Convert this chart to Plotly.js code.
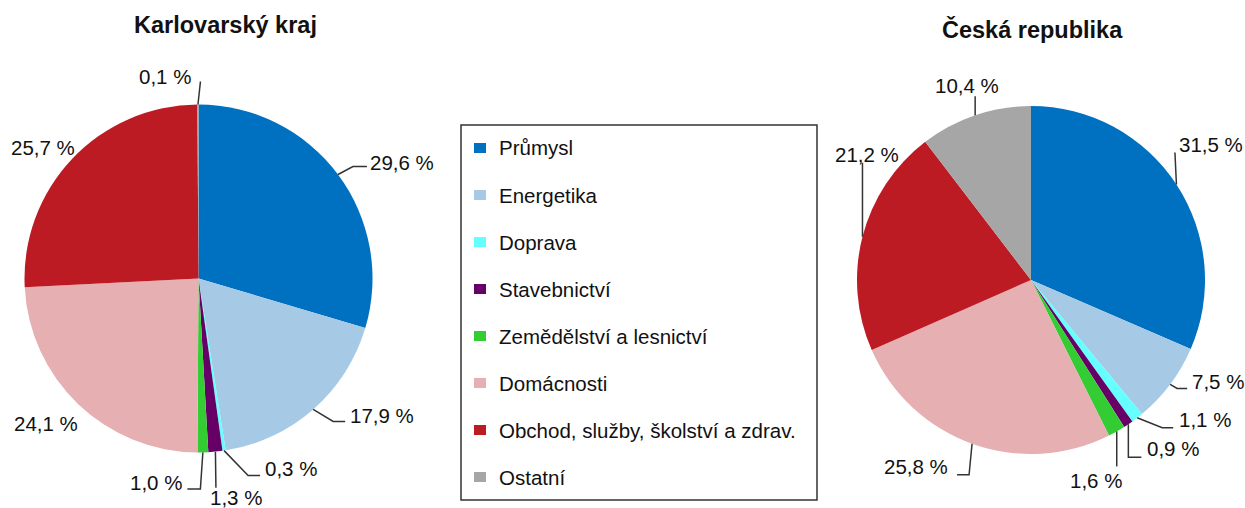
<!DOCTYPE html>
<html><head><meta charset="utf-8">
<script src="https://cdn.plot.ly/plotly-3.0.1.min.js"></script>
<style>html,body{margin:0;padding:0;background:#fff}#chart{width:1245px;height:508px}</style>
</head><body><div id="chart"></div>
<script>
// ---- DATA ----
const categories = ['Průmysl','Energetika','Doprava','Stavebnictví','Zemědělství a lesnictví','Domácnosti','Obchod, služby, školství a zdrav.','Ostatní'];
const karlovarskyValues = [29.6, 17.9, 0.3, 1.3, 1.0, 24.1, 25.7, 0.1];
const ceskaValues = [31.5, 7.5, 1.1, 0.9, 1.6, 25.8, 21.2, 10.4];
const pieTitles = ['Karlovarský kraj', 'Česká republika'];

// ---- STYLE ----
const colors = ['#0070C0','#A6CAE6','#66FFFF','#660066','#33CC33','#E6AFB2','#BD1B24','#A6A6A6'];
const W = 1245, H = 508;
const FONT = '"Liberation Sans", Arial, sans-serif';
const LABEL_SIZE = 20.5;
const pies = [
  {cx: 198.5, cy: 278.5, r: 174, titleX: 225, titleY: 25},
  {cx: 1031, cy: 280, r: 174, titleX: 1032, titleY: 29}
];
// label placement: leader path offsets from slice edge point, text offset & anchor
const labelPlacement = [
  [
    {path: [[15,-8],[29,-8]], tx: 30, ty: -11.5, a: 'left'},
    {path: [[20,12],[32,12]], tx: 35, ty: 6, a: 'left'},
    {path: [[24,25],[36,25]], tx: 39, ty: 18, a: 'left'},
    {path: [[0.5,36]], tx: -7.5, ty: 46, a: 'left'},
    {path: [[-2.5,36.5],[-15.5,36.5]], tx: -19, ty: 30, a: 'right'},
    {path: [], tx: 2, ty: 19, a: 'right'},
    {path: [], tx: 5, ty: -11, a: 'right'},
    {path: [[2.5,-23]], tx: -5, ty: -28, a: 'right'}
  ],
  [
    {path: [[-1.5,-32]], tx: 1, ty: -39.5, a: 'left'},
    {path: [[7,4],[17,4]], tx: 20, ty: -2.5, a: 'left'},
    {path: [[25,10],[36,10]], tx: 40, ty: 2, a: 'left'},
    {path: [[0,33],[13,33]], tx: 17, ty: 24, a: 'left'},
    {path: [[0,35]], tx: -21, ty: 49, a: 'center'},
    {path: [[-3,31],[-15,31]], tx: -22, ty: 23, a: 'right'},
    {path: [[0,-74]], tx: 5, ty: -82, a: 'center'},
    {path: [[0,-19]], tx: -8, ty: -30, a: 'center'}
  ]
];
const legendBox = {x0: 461, y0: 125, x1: 817, y1: 500, firstY: 148, step: 47, sqX0: 474, sqX1: 486, sqH: 10, textX: 497};

const px = x => x / W, py = y => 1 - y / H;
const fmt = v => v.toFixed(1).replace('.', ',') + ' %';

const seriesList = [karlovarskyValues, ceskaValues];
const traces = [], annotations = [], shapes = [];

seriesList.forEach((vals, p) => {
  const g = pies[p];
  traces.push({
    type: 'pie', labels: categories, values: vals, sort: false,
    direction: 'clockwise', rotation: 0, textinfo: 'none',
    marker: {colors: colors, line: {width: 0}},
    domain: {x: [px(g.cx - g.r), px(g.cx + g.r)], y: [py(g.cy + g.r), py(g.cy - g.r)]},
    showlegend: false, hoverinfo: 'label+percent'
  });
  annotations.push({
    xref: 'paper', yref: 'paper', x: px(g.titleX), y: py(g.titleY),
    xanchor: 'center', yanchor: 'middle', showarrow: false, text: pieTitles[p],
    font: {family: FONT, size: 23.5, color: '#111', weight: 700}
  });
  const total = vals.reduce((s, v) => s + v, 0);
  let cum = 0;
  vals.forEach((v, i) => {
    const th = 2 * Math.PI * (cum + v / 2) / total;
    cum += v;
    const ex = g.cx + g.r * Math.sin(th), ey = g.cy - g.r * Math.cos(th);
    const lp = labelPlacement[p][i];
    if (lp.path.length) {
      let d = 'M ' + px(ex) + ',' + py(ey);
      lp.path.forEach(o => { d += ' L ' + px(ex + o[0]) + ',' + py(ey + o[1]); });
      shapes.push({type: 'path', xref: 'paper', yref: 'paper', path: d, line: {color: '#333', width: 1.5}});
    }
    annotations.push({
      xref: 'paper', yref: 'paper', x: px(ex + lp.tx), y: py(ey + lp.ty),
      xanchor: lp.a, yanchor: 'middle', showarrow: false, text: fmt(v),
      font: {family: FONT, size: LABEL_SIZE, color: '#111'}
    });
  });
});

// legend
const L = legendBox;
shapes.push({type: 'rect', xref: 'paper', yref: 'paper', x0: px(L.x0), x1: px(L.x1), y0: py(L.y1), y1: py(L.y0), line: {color: '#333', width: 1.5}, fillcolor: 'rgba(0,0,0,0)'});
categories.forEach((c, i) => {
  const yc = L.firstY + i * L.step;
  shapes.push({type: 'rect', xref: 'paper', yref: 'paper', x0: px(L.sqX0), x1: px(L.sqX1), y0: py(yc + L.sqH / 2), y1: py(yc - L.sqH / 2), line: {width: 0}, fillcolor: colors[i]});
  annotations.push({xref: 'paper', yref: 'paper', x: px(L.textX), y: py(yc), xanchor: 'left', yanchor: 'middle', showarrow: false, text: c, font: {family: FONT, size: LABEL_SIZE, color: '#111'}});
});

Plotly.newPlot('chart', traces, {
  width: W, height: H, margin: {l: 0, r: 0, t: 0, b: 0, pad: 0},
  paper_bgcolor: '#fff', plot_bgcolor: '#fff', showlegend: false,
  annotations: annotations, shapes: shapes
}, {displayModeBar: false, staticPlot: true});
</script></body></html>
